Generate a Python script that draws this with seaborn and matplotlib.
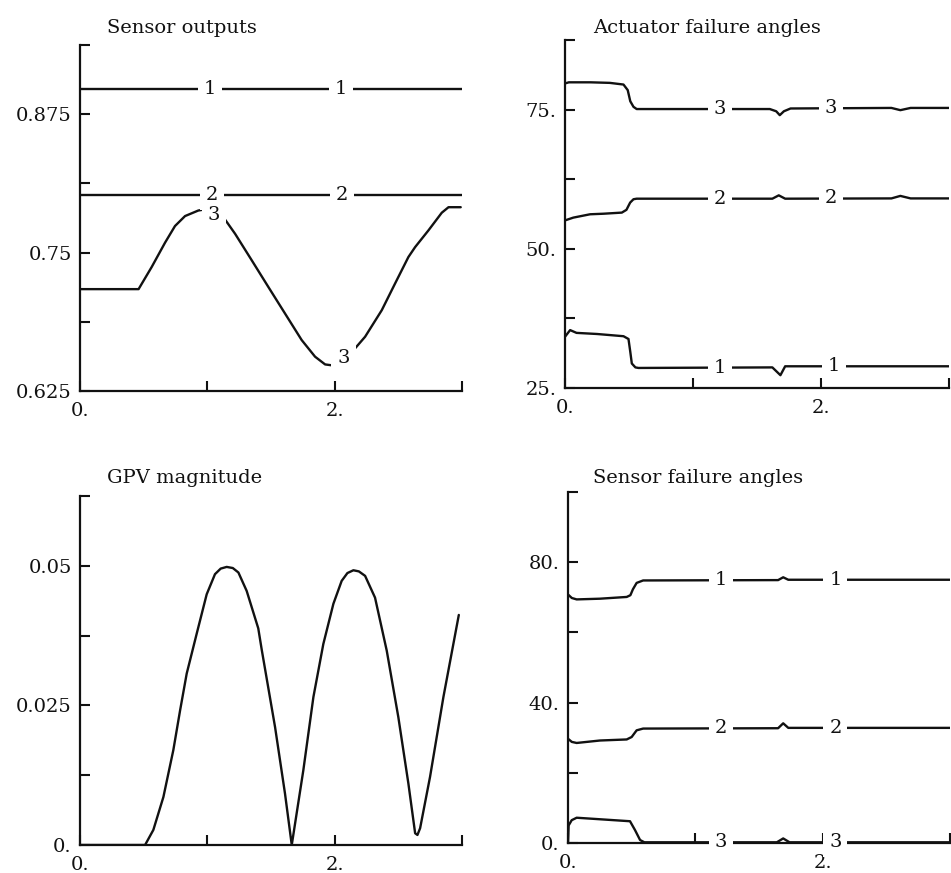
import numpy as np
import pandas as pd
import matplotlib
matplotlib.use("Agg")
import matplotlib.pyplot as plt
import seaborn as sns

# ---------------- data ----------------
# Panel A: Sensor outputs
so_x1 = [0.0, 3.0]
so_y1 = [0.898, 0.898]
so_x2 = [0.0, 3.0]
so_y2 = [0.802, 0.802]
so_x3 = [0.0, 0.46, 0.563, 0.668, 0.746, 0.825, 0.929, 0.98, 1.03, 1.126, 1.218,
         1.349, 1.479, 1.61, 1.741, 1.846, 1.925, 1.99, 2.06, 2.134, 2.239, 2.37,
         2.474, 2.579, 2.632, 2.736, 2.841, 2.894, 2.99]
so_y3 = [0.717, 0.717, 0.737, 0.759, 0.774, 0.783, 0.788, 0.789, 0.788, 0.782, 0.767,
         0.743, 0.719, 0.695, 0.671, 0.656, 0.649, 0.648, 0.651, 0.660, 0.674, 0.698,
         0.722, 0.746, 0.755, 0.770, 0.786, 0.791, 0.791]

# Panel B: Actuator failure angles
af_x1 = [0.0, 0.04, 0.09, 0.25, 0.457, 0.496, 0.51, 0.522, 0.55, 0.574, 1.62, 1.683, 1.72, 3.0]
af_y1 = [34.2, 35.4, 34.9, 34.7, 34.3, 33.8, 31.5, 29.4, 28.7, 28.6, 28.7, 27.3, 28.9, 28.9]
af_x2 = [0.0, 0.065, 0.196, 0.3, 0.444, 0.48, 0.509, 0.535, 0.56, 1.62, 1.67, 1.72, 2.55, 2.62, 2.7, 3.0]
af_y2 = [55.1, 55.6, 56.2, 56.3, 56.5, 57.0, 58.3, 58.9, 59.0, 59.0, 59.6, 59.0, 59.05, 59.5, 59.05, 59.05]
af_x3 = [0.0, 0.03, 0.1, 0.2, 0.35, 0.457, 0.49, 0.51, 0.535, 0.56, 1.6, 1.65, 1.678, 1.71, 1.762,
         2.55, 2.62, 2.7, 3.0]
af_y3 = [79.7, 79.9, 79.9, 79.9, 79.8, 79.5, 78.5, 76.5, 75.5, 75.1, 75.1, 74.7, 74.0, 74.7, 75.2,
         75.3, 74.9, 75.3, 75.3]

# Panel C: GPV magnitude
gpv_x = [0.0, 0.511, 0.576, 0.655, 0.733, 0.786, 0.838, 0.916, 0.995, 1.06, 1.105, 1.152,
         1.20, 1.244, 1.309, 1.40, 1.427, 1.532, 1.61, 1.663, 1.754, 1.833, 1.911, 1.99,
         2.055, 2.10, 2.147, 2.19, 2.239, 2.317, 2.409, 2.50, 2.579, 2.632, 2.65, 2.671,
         2.749, 2.854, 2.975]
gpv_y = [0.0, 0.0, 0.0027, 0.0086, 0.0170, 0.0241, 0.0307, 0.0378, 0.0449, 0.0485, 0.0495,
         0.0498, 0.0496, 0.0488, 0.0455, 0.0388, 0.0350, 0.0211, 0.0092, 0.0, 0.0134, 0.0265,
         0.0360, 0.0432, 0.0473, 0.0487, 0.0492, 0.0490, 0.0482, 0.0443, 0.0348, 0.0229,
         0.0110, 0.0021, 0.0018, 0.0030, 0.0122, 0.0265, 0.0412]

# Panel D: Sensor failure angles
sf_x1 = [0.0, 0.03, 0.068, 0.25, 0.461, 0.49, 0.51, 0.539, 0.59, 1.65, 1.69, 1.73, 3.0]
sf_y1 = [70.8, 69.8, 69.4, 69.6, 70.1, 70.6, 72.3, 74.1, 74.8, 74.9, 75.7, 75.0, 75.0]
sf_x2 = [0.0, 0.03, 0.068, 0.251, 0.461, 0.5, 0.539, 0.59, 1.65, 1.69, 1.73, 3.0]
sf_y2 = [29.7, 28.8, 28.5, 29.2, 29.5, 30.2, 32.1, 32.6, 32.7, 34.1, 32.8, 32.8]
sf_x3 = [0.0, 0.005, 0.029, 0.068, 0.487, 0.526, 0.566, 0.6, 1.64, 1.69, 1.74, 3.0]
sf_y3 = [0.0, 5.0, 6.5, 7.2, 6.2, 3.7, 0.85, 0.2, 0.2, 1.3, 0.2, 0.2]

titles = ["Sensor outputs", "Actuator failure angles", "GPV magnitude", "Sensor failure angles"]

x_ticks = [0, 1, 2, 3]
x_ticklabels = ["0.", "", "2.", ""]

so_yticks = [0.625, 0.6875, 0.75, 0.8125, 0.875, 0.9375]
so_yticklabels = ["0.625", "", "0.75", "", "0.875", ""]
af_yticks = [25, 37.5, 50, 62.5, 75, 87.5]
af_yticklabels = ["25.", "", "50.", "", "75.", ""]
gpv_yticks = [0, 0.0125, 0.025, 0.0375, 0.05, 0.0625]
gpv_yticklabels = ["0.", "", "0.025", "", "0.05", ""]
sf_yticks = [0, 20, 40, 60, 80, 100]
sf_yticklabels = ["0.", "", "40.", "", "80.", ""]

# inline curve labels: (text, x, y)
so_labels = [("1", 1.02, 0.898), ("1", 2.05, 0.898), ("2", 1.034, 0.802), ("2", 2.056, 0.802),
             ("3", 1.05, 0.784), ("3", 2.07, 0.655)]
af_labels = [("3", 1.21, 75.1), ("3", 2.08, 75.3), ("2", 1.21, 59.0), ("2", 2.08, 59.05),
             ("1", 1.21, 28.6), ("1", 2.10, 28.9)]
sf_labels = [("1", 1.20, 74.9), ("1", 2.10, 75.0), ("2", 1.20, 32.7), ("2", 2.10, 32.8),
             ("3", 1.20, 0.2), ("3", 2.10, 0.2)]

# ---------------- style ----------------
sns.set_theme(style="ticks")
plt.rcParams["font.family"] = ["DejaVu Serif"]
plt.rcParams["axes.linewidth"] = 1.6
plt.rcParams["text.color"] = "#111111"

W, H = 951, 873
fig = plt.figure(figsize=(W / 100, H / 100), dpi=100)
fig.patch.set_facecolor("white")


def px_axes(l, r, top, bottom):
    return fig.add_axes([l / W, 1 - bottom / H, (r - l) / W, (bottom - top) / H])


def draw_series(ax, xs, ys):
    df = pd.DataFrame({"x": xs, "y": ys})
    sns.lineplot(data=df, x="x", y="y", ax=ax, color="#111111", linewidth=1.7,
                 sort=False, estimator=None, zorder=2)


def style_axes(ax, ylim, yticks, yticklabels):
    ax.set_xlim(0, 3)
    ax.set_ylim(*ylim)
    ax.set_xticks(x_ticks)
    ax.set_xticklabels(x_ticklabels)
    ax.set_yticks(yticks)
    ax.set_yticklabels(yticklabels)
    ax.tick_params(direction="in", length=7, width=1.5, labelsize=14, colors="#111111")
    ax.tick_params(axis="x", pad=8)
    ax.tick_params(axis="y", pad=6)
    ax.set_xlabel("")
    ax.set_ylabel("")
    for s in ["top", "right"]:
        ax.spines[s].set_visible(False)
    for s in ["left", "bottom"]:
        ax.spines[s].set_color("#111111")
    ax.set_facecolor("white")
    ax.grid(False)


def put_labels(ax, labels):
    for t, x, y in labels:
        ax.text(x, y, t, ha="center", va="center", fontsize=14, color="#111111", zorder=3,
                bbox=dict(boxstyle="square,pad=0.3", fc="white", ec="none"))


# Panel A
axA = px_axes(80, 462, 45, 391)
draw_series(axA, so_x1, so_y1)
draw_series(axA, so_x2, so_y2)
draw_series(axA, so_x3, so_y3)
style_axes(axA, (0.625, 0.9375), so_yticks, so_yticklabels)
put_labels(axA, so_labels)

# Panel B
axB = px_axes(565, 949, 40, 388)
draw_series(axB, af_x1, af_y1)
draw_series(axB, af_x2, af_y2)
draw_series(axB, af_x3, af_y3)
style_axes(axB, (25, 87.5), af_yticks, af_yticklabels)
put_labels(axB, af_labels)

# Panel C
axC = px_axes(80, 462, 496, 845)
draw_series(axC, gpv_x, gpv_y)
style_axes(axC, (0, 0.0625), gpv_yticks, gpv_yticklabels)

# Panel D
axD = px_axes(568, 950, 492, 843)
draw_series(axD, sf_x1, sf_y1)
draw_series(axD, sf_x2, sf_y2)
draw_series(axD, sf_x3, sf_y3)
style_axes(axD, (0, 100), sf_yticks, sf_yticklabels)
put_labels(axD, sf_labels)

# titles
for t, (xp, yp) in zip(titles, [(107, 33), (593, 33), (107, 483), (593, 483)]):
    fig.text(xp / W, 1 - yp / H, t, ha="left", va="baseline", fontsize=14, color="#111111")

fig.savefig("out.png", dpi=100, facecolor="white")
